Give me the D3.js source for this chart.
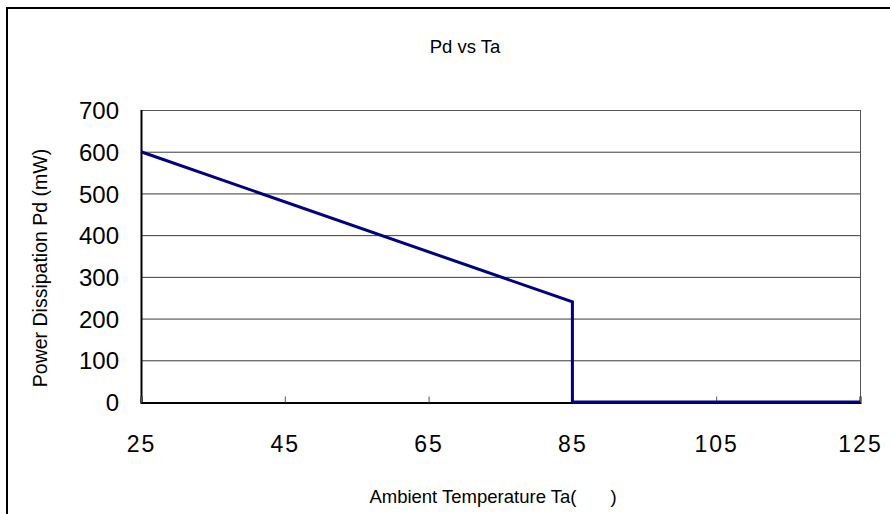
<!DOCTYPE html>
<html>
<head>
<meta charset="utf-8">
<script src="https://cdn.jsdelivr.net/npm/d3@7"></script>
<style>
  body { margin: 0; background: #fff; }
  text { font-family: "Liberation Sans", Arial, sans-serif; fill: #000; }
</style>
</head>
<body>
<svg id="chart" width="890" height="514"></svg>
<script>
// chart data
const tempTicks = [25, 45, 65, 85, 105, 125];
const powerTicks = [0, 100, 200, 300, 400, 500, 600, 700];
const temps = [25, 85, 85, 125];
const power = [600, 240, 0, 0];

const svg = d3.select("#chart");
const margin = { left: 141, top: 110, right: 860, bottom: 402 };

const x = d3.scaleLinear().domain([25, 125]).range([margin.left, margin.right]);
const y = d3.scaleLinear().domain([0, 700]).range([margin.bottom, margin.top]);

// outer frame (left + top only)
svg.append("path")
    .attr("d", "M7,514V8H890")
    .attr("fill", "none")
    .attr("stroke", "#000")
    .attr("stroke-width", 2);

// title
svg.append("text")
    .attr("x", 465).attr("y", 53)
    .attr("text-anchor", "middle")
    .style("font-size", "18.5px")
    .text("Pd vs Ta");

// gridlines
svg.append("g")
    .selectAll("line")
    .data(powerTicks.filter(d => d > 0 && d < 700))
    .join("line")
        .attr("x1", margin.left).attr("x2", margin.right)
        .attr("y1", d => y(d) + 0.5).attr("y2", d => y(d) + 0.5)
        .attr("stroke", "#3a3a3a").attr("stroke-width", 1);

// plot border
svg.append("rect")
    .attr("x", margin.left + 0.5).attr("y", margin.top + 0.5)
    .attr("width", margin.right - margin.left)
    .attr("height", margin.bottom - margin.top)
    .attr("fill", "none")
    .attr("stroke", "#555")
    .attr("stroke-width", 1);
svg.append("line")
    .attr("x1", margin.left + 0.5).attr("x2", margin.left + 0.5)
    .attr("y1", margin.top).attr("y2", margin.bottom + 1)
    .attr("stroke", "#000").attr("stroke-width", 2);

// x axis
const xAxis = d3.axisBottom(x).tickValues(tempTicks).tickSize(-6).tickPadding(33);
const gx = svg.append("g")
    .attr("transform", `translate(0,${margin.bottom + 0.5})`)
    .call(xAxis);
gx.select(".domain").attr("stroke", "#000").attr("stroke-width", 2);
gx.selectAll(".tick line").attr("stroke", "#555");
gx.selectAll(".tick text")
    .style("font-size", "23px")
    .style("letter-spacing", "2px")
    .attr("dy", "0.71em");

// y axis
const yAxis = d3.axisLeft(y).tickValues(powerTicks).tickSize(0).tickPadding(22);
const gy = svg.append("g")
    .attr("transform", `translate(${margin.left},0)`)
    .call(yAxis);
gy.select(".domain").remove();
gy.selectAll(".tick text").style("font-size", "24px").attr("dy", "0.36em");

// axis titles
svg.append("text")
    .attr("transform", "translate(47,268) rotate(-90)")
    .attr("text-anchor", "middle")
    .style("font-size", "19.5px")
    .text("Power Dissipation Pd (mW)");

const xTitle = svg.append("text")
    .attr("x", 493).attr("y", 503)
    .attr("text-anchor", "middle")
    .style("font-size", "18.5px");
xTitle.append("tspan").text("Ambient Temperature Ta(");
xTitle.append("tspan").attr("dx", 34).text(")");

// derating curve
const line = d3.line().x(d => x(d[0])).y(d => y(d[1]));
svg.append("path")
    .datum(temps.map((t, i) => [t, power[i]]))
    .attr("d", line)
    .attr("fill", "none")
    .attr("stroke", "#000080")
    .attr("stroke-width", 3);
</script>
</body>
</html>
